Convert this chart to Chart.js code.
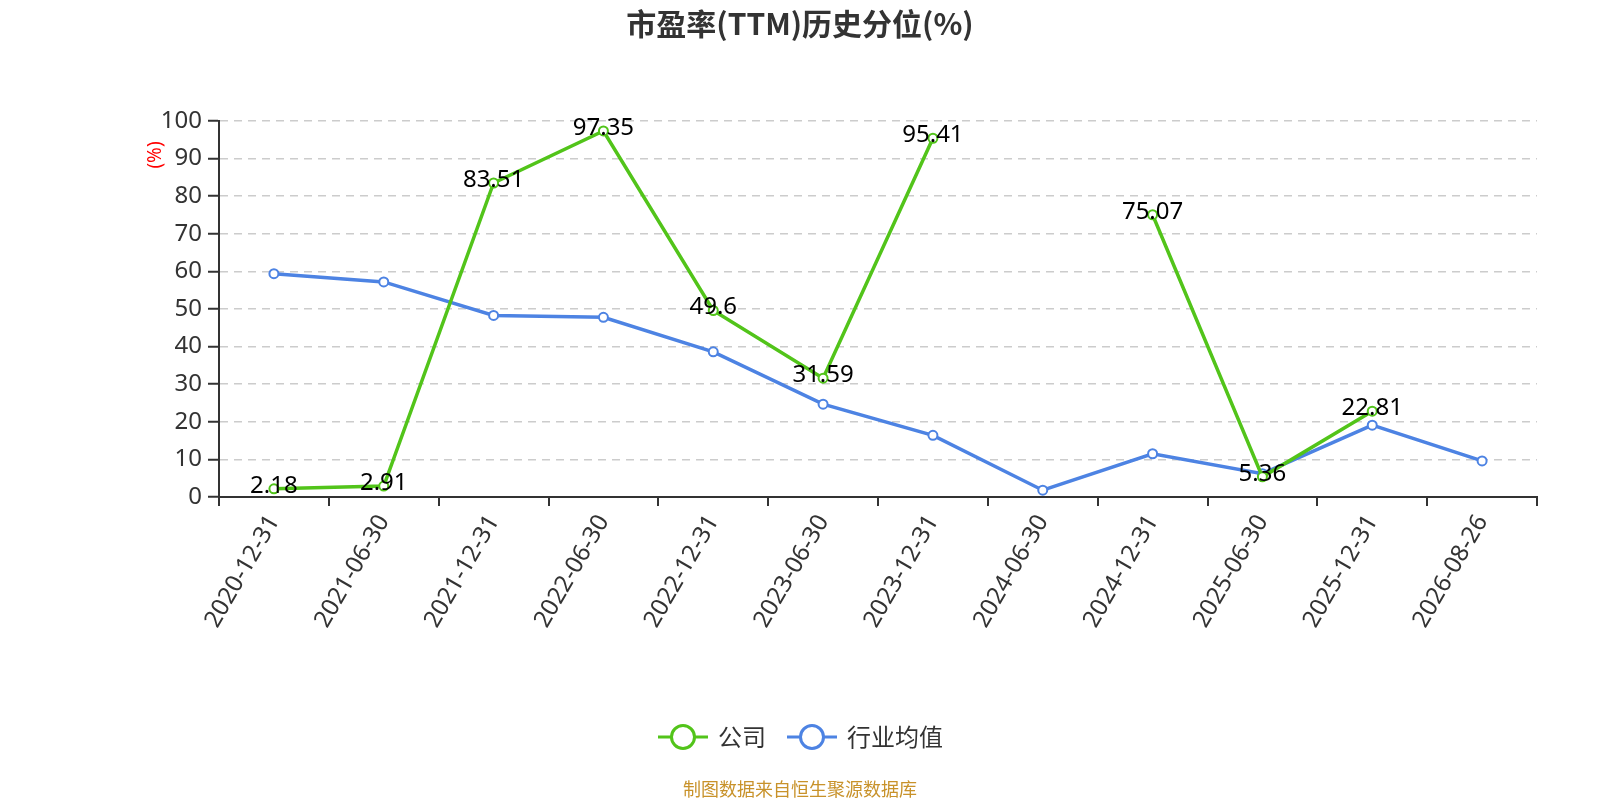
<!DOCTYPE html>
<html>
<head>
<meta charset="utf-8">
<script src="https://cdn.jsdelivr.net/npm/chart.js@4"></script>
<style>
html,body{margin:0;padding:0;background:#fff;}
#wrap{width:1600px;height:800px;position:relative;}
</style>
</head>
<body>
<div id="wrap"><canvas id="c" width="1600" height="800"></canvas></div>
<script>
const categories = ['2020-12-31','2021-06-30','2021-12-31','2022-06-30','2022-12-31','2023-06-30','2023-12-31','2024-06-30','2024-12-31','2025-06-30','2025-12-31','2026-08-26'];
const companyValues = [2.18, 2.91, 83.51, 97.35, 49.6, 31.59, 95.41, null, 75.07, 5.36, 22.81, null];
const industryValues = [59.4, 57.2, 48.3, 47.8, 38.6, 24.7, 16.4, 1.8, 11.5, 6.2, 19.1, 9.6];
const seriesNames = ['公司', '行业均值'];
const titleText = '市盈率(TTM)历史分位(%)';
const yAxisTitle = '(%)';
const sourceText = '制图数据来自恒生聚源数据库';

const GREEN = '#52c41a';
const BLUE = '#4d83e3';
const FONT = '"Noto Sans", "Noto Sans CJK SC", sans-serif';
const CJK = '"Noto Sans CJK SC", "Noto Sans", sans-serif';

const decorPlugin = {
  id: 'decor',
  afterDatasetsDraw(chart) {
    const ctx = chart.ctx;
    const meta = chart.getDatasetMeta(0);
    ctx.save();
    ctx.font = '24px ' + FONT;
    ctx.fillStyle = '#000';
    ctx.textAlign = 'center';
    ctx.textBaseline = 'middle';
    meta.data.forEach((pt, i) => {
      const v = chart.data.datasets[0].data[i];
      if (v === null || v === undefined) return;
      ctx.fillText(String(v), pt.x, pt.y - 3);
    });
    ctx.restore();
  },
  afterDraw(chart) {
    const ctx = chart.ctx;
    ctx.save();
    ctx.font = 'bold 30px ' + CJK;
    ctx.fillStyle = '#333';
    ctx.textAlign = 'center';
    ctx.textBaseline = 'middle';
    ctx.fillText(titleText, 800, 24);
    ctx.save();
    ctx.translate(156, 155);
    ctx.rotate(-Math.PI / 2);
    ctx.font = '19px ' + FONT;
    ctx.fillStyle = '#ff0000';
    ctx.fillText(yAxisTitle, 0, 0);
    ctx.restore();
    const items = [{x: 658, color: GREEN, label: seriesNames[0]}, {x: 787, color: BLUE, label: seriesNames[1]}];
    const ly = 737;
    items.forEach(it => {
      ctx.strokeStyle = it.color;
      ctx.lineWidth = 3;
      ctx.beginPath();
      ctx.moveTo(it.x, ly);
      ctx.lineTo(it.x + 50, ly);
      ctx.stroke();
      ctx.beginPath();
      ctx.arc(it.x + 25, ly, 11.5, 0, Math.PI * 2);
      ctx.fillStyle = '#fff';
      ctx.fill();
      ctx.lineWidth = 3;
      ctx.stroke();
      ctx.font = '24px ' + CJK;
      ctx.fillStyle = '#333';
      ctx.textAlign = 'left';
      ctx.textBaseline = 'middle';
      ctx.fillText(it.label, it.x + 60, ly);
    });
    ctx.font = '18px ' + CJK;
    ctx.fillStyle = '#c8922a';
    ctx.textAlign = 'center';
    ctx.textBaseline = 'middle';
    ctx.fillText(sourceText, 800, 789);
    ctx.restore();
  }
};

new Chart(document.getElementById('c'), {
  type: 'line',
  data: {
    labels: categories,
    datasets: [
      {
        label: seriesNames[0],
        data: companyValues,
        borderColor: GREEN,
        backgroundColor: '#fff',
        borderWidth: 3.5,
        pointRadius: 4.5,
        pointBorderWidth: 2,
        pointBackgroundColor: '#fff',
        pointBorderColor: GREEN,
        spanGaps: false,
        tension: 0
      },
      {
        label: seriesNames[1],
        data: industryValues,
        borderColor: BLUE,
        backgroundColor: '#fff',
        borderWidth: 3.5,
        pointRadius: 4.5,
        pointBorderWidth: 2,
        pointBackgroundColor: '#fff',
        pointBorderColor: BLUE,
        tension: 0
      }
    ]
  },
  options: {
    responsive: false,
    animation: false,
    devicePixelRatio: 1,
    layout: { padding: { left: 138, right: 63, top: 121, bottom: 153 } },
    plugins: {
      legend: { display: false },
      title: { display: false },
      tooltip: { enabled: false }
    },
    scales: {
      x: {
        type: 'category',
        offset: true,
        afterFit(scale) { scale.height = 150; scale.paddingLeft = 0; scale.paddingRight = 0; },
        grid: { offset: true, drawOnChartArea: false, drawTicks: true, tickLength: 9, color: '#333', lineWidth: 2 },
        border: { display: true, color: '#333', width: 2 },
        ticks: {
          autoSkip: false,
          maxRotation: 60,
          minRotation: 60,
          padding: 4,
          color: '#333',
          font: { size: 24, family: FONT }
        }
      },
      y: {
        min: 0,
        max: 100,
        afterFit(scale) { scale.width = 81; },
        ticks: {
          stepSize: 10,
          padding: 6,
          color: '#333',
          font: { size: 24, family: FONT }
        },
        grid: {
          color: '#cccccc',
          lineWidth: 1.5,
          drawTicks: true,
          tickLength: 11,
          tickColor: '#333',
          tickWidth: 2,
          tickBorderDash: []
        },
        border: { display: true, color: '#333', width: 2, dash: [8, 6] }
      }
    }
  },
  plugins: [decorPlugin]
});
</script>
</body>
</html>
